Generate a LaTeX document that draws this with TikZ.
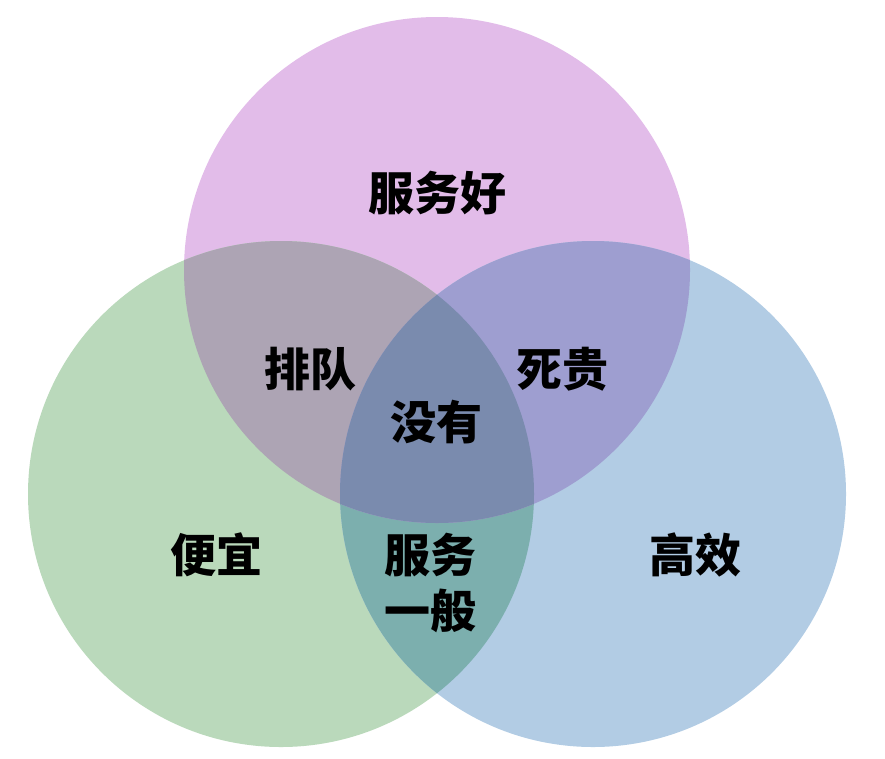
\documentclass[tikz,border=0pt]{standalone}
\usepackage{fontspec}
\newfontfamily\cjk{Noto Sans CJK SC}
\definecolor{pinkC}{HTML}{E2BCE9}
\definecolor{greenC}{HTML}{BAD9BB}
\definecolor{blueC}{HTML}{B2CCE4}
\definecolor{pgC}{HTML}{ADA4B4}
\definecolor{pbC}{HTML}{9E9ED0}
\definecolor{gbC}{HTML}{7CAFAE}
\definecolor{allC}{HTML}{7A8BAE}
\newcommand{\vennR}{253pt}
\tikzset{region/.style={font=\cjk\bfseries\fontsize{46}{56}\selectfont,inner sep=0pt,align=center}}

\begin{document}
\begin{tikzpicture}[x=1pt,y=-1pt]
  \useasboundingbox (0,0) rectangle (885,758);
  % circle centres
  \coordinate (good) at (437,270);
  \coordinate (cheap) at (281,494);
  \coordinate (fast) at (593,494);
  % single circles
  \fill[pinkC] (good) circle[radius=\vennR];
  \fill[greenC] (cheap) circle[radius=\vennR];
  \fill[blueC] (fast) circle[radius=\vennR];
  % overlaps
  \begin{scope}
    \clip (cheap) circle[radius=\vennR];
    \fill[gbC] (fast) circle[radius=\vennR];
  \end{scope}
  \begin{scope}
    \clip (good) circle[radius=\vennR];
    \fill[pgC] (cheap) circle[radius=\vennR];
    \fill[pbC] (fast) circle[radius=\vennR];
    \clip (cheap) circle[radius=\vennR];
    \fill[allC] (fast) circle[radius=\vennR];
  \end{scope}
  % labels
  \node[region] (goodLbl) at (437,193) {服务好};
  \node[region] (queueLbl) at (310,369) {排队};
  \node[region] (priceyLbl) at (562,369) {死贵};
  \node[region] (noneLbl) at (436,422) {没有};
  \node[region] (cheapLbl) at (216,555) {便宜};
  \node[region] (avgLbl) at (430,583) {服务\\一般};
  \node[region] (fastLbl) at (695,555) {高效};
\end{tikzpicture}
\end{document}
